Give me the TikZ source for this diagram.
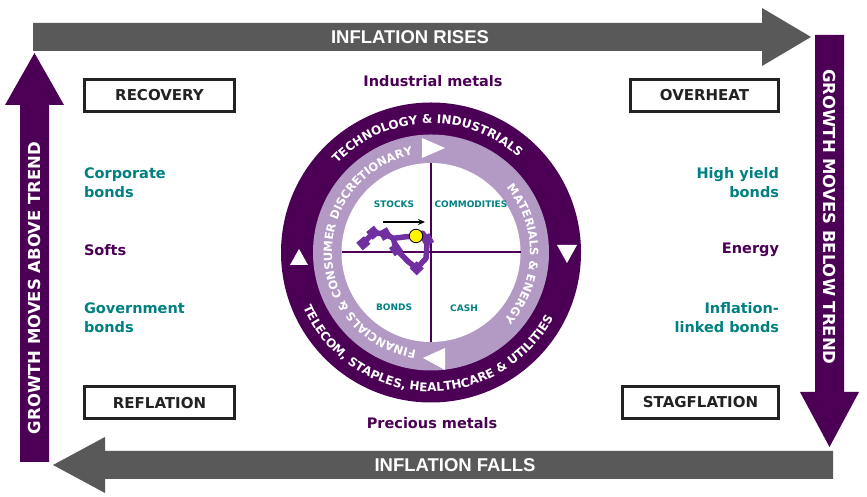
\documentclass[tikz,border=0pt]{standalone}
\usepackage{fontspec}
\usetikzlibrary{decorations.text,arrows.meta,calc}
\newfontfamily\dvsans{DejaVu Sans}
\newfontfamily\libsans{Liberation Sans}
\definecolor{dpurple}{RGB}{75,0,85}
\definecolor{lpurple}{RGB}{178,154,196}
\definecolor{agray}{RGB}{89,89,89}
\definecolor{tealc}{RGB}{0,128,128}
\definecolor{trailc}{RGB}{112,48,160}
\definecolor{boxc}{RGB}{34,34,34}
\newcommand\ringdark{\color{white}\dvsans\bfseries\fontsize{12}{12}\selectfont}
\newcommand\ringlight{\color{white}\dvsans\bfseries\fontsize{11.5}{11.5}\selectfont}
\begin{document}
\begin{tikzpicture}[x=1pt,y=1pt,
  phase/.style={draw=boxc, line width=3pt, inner sep=0pt, outer sep=0pt, minimum height=32pt,
    text=boxc, font=\dvsans\bfseries\fontsize{15}{15}\selectfont},
  assetlbl/.style={inner sep=0pt, outer sep=0pt, text=tealc, font=\dvsans\bfseries\fontsize{14.5}{19}\selectfont},
  commlbl/.style={inner sep=0pt, outer sep=0pt, text=dpurple, font=\dvsans\bfseries\fontsize{14.5}{19}\selectfont},
  quadlbl/.style={inner sep=0pt, text=tealc, font=\dvsans\bfseries\fontsize{9}{9}\selectfont},
  arrlbl/.style={inner sep=0pt, text=white, font=\libsans\bfseries\fontsize{18.5}{18.5}\selectfont},
  vertlbl/.style={inner sep=0pt, text=white, font=\dvsans\bfseries\fontsize{16.5}{16.5}\selectfont},
  trail/.style={draw=trailc, line width=5.5pt, line join=round},
  sq/.style={fill=trailc, minimum size=10pt, inner sep=0pt},
  tri/.style={fill=white}
]
\useasboundingbox (0,0) rectangle (867,497);
\fill[white] (0,0) rectangle (867,497);

% big arrows
\fill[agray] (33,474) -- (762,474) -- (762,489) -- (811,460) -- (762,431) -- (762,446) -- (33,446) -- cycle;
\fill[dpurple] (815,462) -- (844,462) -- (844,105) -- (859,105) -- (829.5,50) -- (800,105) -- (815,105) -- cycle;
\fill[agray] (833,46) -- (105,46) -- (105,60) -- (53,32) -- (105,4) -- (105,18) -- (833,18) -- cycle;
\fill[dpurple] (20,35) -- (49,35) -- (49,392) -- (64,392) -- (34.5,444) -- (5,392) -- (20,392) -- cycle;

\node[arrlbl] (rises) at (410,460) {INFLATION RISES};
\node[arrlbl] (falls) at (455,32) {INFLATION FALLS};
\node[vertlbl, rotate=90] (above) at (34.5,209) {GROWTH MOVES ABOVE TREND};
\node[vertlbl, rotate=-90] (below) at (829.5,280) {GROWTH MOVES BELOW TREND};

% phase boxes
\node[phase, minimum width=150pt] (recovery) at (159.5,401.5) {RECOVERY};
\node[phase, minimum width=148pt] (overheat) at (704.5,401.5) {OVERHEAT};
\node[phase, minimum width=150pt] (reflation) at (159.5,94) {REFLATION};
\node[phase, minimum width=156pt] (stagflation) at (700.5,94.5) {STAGFLATION};

% side labels
\node[assetlbl, anchor=west, align=left] (corp) at (84,314.5) {Corporate\\bonds};
\node[commlbl, anchor=west] (softs) at (84,247) {Softs};
\node[assetlbl, anchor=west, align=left] (govt) at (84,179) {Government\\bonds};
\node[assetlbl, anchor=east, align=right] (hy) at (779,314.5) {High yield\\bonds};
\node[commlbl, anchor=east] (energy) at (779,247) {Energy};
\node[assetlbl, anchor=east, align=right] (ilb) at (779,179) {Inflation-\\linked bonds};
\node[commlbl] (indmet) at (433,416) {Industrial metals};
\node[commlbl] (premet) at (432,74) {Precious metals};

% clock
\coordinate (C) at (431,244.5);
\fill[dpurple] (C) circle[radius=150];
\fill[lpurple] (C) circle[radius=118];
\fill[white] (C) circle[radius=89.5];
\draw[dpurple, line width=2pt] ($(C)+(-89.5,0)$) -- ($(C)+(89.5,0)$);
\draw[dpurple, line width=2pt] ($(C)+(0,-89.5)$) -- ($(C)+(0,89.5)$);

\path[decorate, decoration={text along path, text align=center,
  text={|\ringdark|TECHNOLOGY {\&} INDUSTRIALS}}]
  (C) ++(152:129) arc[start angle=152, end angle=32, radius=129];
\path[decorate, decoration={text along path, text align=center,
  text={|\ringdark|TELECOM, STAPLES, HEALTHCARE {\&} UTILITIES}}]
  (C) ++(192.5:139) arc[start angle=192.5, end angle=342.5, radius=139];
\path[decorate, decoration={text along path, text align=center,
  text={|\ringlight|FINANCIALS {\&} CONSUMER DISCRETIONARY}}]
  (C) ++(281:99) arc[start angle=281, end angle=81, radius=99];
\path[decorate, decoration={text along path, text align=center,
  text={|\ringlight|MATERIALS {\&} ENERGY}}]
  (C) ++(59:99) arc[start angle=59, end angle=-61, radius=99];

\fill[tri] (422,359) -- (422,339) -- (445,349) -- cycle;
\fill[tri] (445,149) -- (445,127) -- (423,139) -- cycle;
\fill[tri] (290,232) -- (308,232) -- (299,248) -- cycle;
\fill[tri] (557,252) -- (577,252) -- (567,234) -- cycle;

\node[quadlbl] (stocks) at (394,293) {STOCKS};
\node[quadlbl] (commod) at (471,293) {COMMODITIES};
\node[quadlbl] (bonds) at (394,190) {BONDS};
\node[quadlbl] (cash) at (464,189) {CASH};

% trail
\draw[trail] (363.3,253.7) -- (373.3,264.3) -- (385,263) -- (393.3,258.7) -- (406.7,260.3) -- (416,261);
\draw[trail] (393.3,258.7) -- (396,247.7) -- (408.3,235.3) -- (416.7,228.7) -- (426,238.7) -- (427.3,257) -- (422.7,263.7) -- (416,261);
\node[sq, rotate=40] (s1) at (363.3,253.7) {};
\node[sq, rotate=40] (s2) at (373.3,264.3) {};
\node[sq, rotate=30] (s3) at (385,263) {};
\node[sq, rotate=35] (s4) at (396,247.7) {};
\node[sq, rotate=45] (s5) at (416.7,228.7) {};
\node[sq, rotate=30] (s6) at (427.3,257) {};
\coordinate (arrA) at (383,275);
\coordinate (arrB) at (425,275);
\draw[black, line width=1.2pt, -{Stealth[length=7pt,width=6pt]}] (arrA) -- (arrB);
\node[circle, fill=yellow, draw=black, line width=0.8pt, minimum size=13.5pt, inner sep=0pt] (dot) at (416,261) {};
\end{tikzpicture}
\end{document}
